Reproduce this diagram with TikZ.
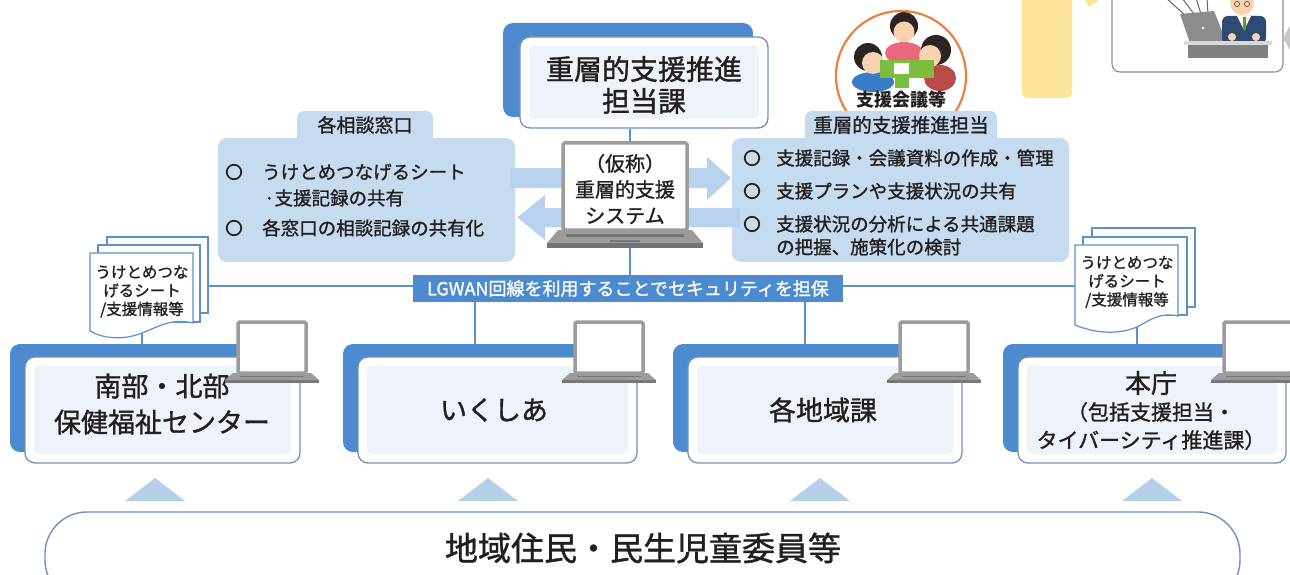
\documentclass[tikz,border=0pt]{standalone}
\usepackage{fontspec}
\setmainfont{Noto Sans CJK JP}[UprightFeatures={FakeBold=1.2}]
\usetikzlibrary{calc}
\definecolor{backblue}{HTML}{4C8BCF}
\definecolor{lineblue}{HTML}{5B91CD}
\definecolor{paleblue}{HTML}{C6DBF0}
\definecolor{arrowblue}{HTML}{B8D2ED}
\definecolor{frameblue}{HTML}{7191BA}
\definecolor{innerfill}{HTML}{EEF3F9}
\definecolor{txt}{HTML}{231F20}
\definecolor{lapgrey}{HTML}{9C9C9C}
\definecolor{lapdark}{HTML}{777777}
\definecolor{ringorange}{HTML}{E8823E}
\definecolor{padyellow}{HTML}{FCE597}
\definecolor{trifill}{HTML}{B7D0EA}
\definecolor{skin}{HTML}{F7D3B2}
\definecolor{hair}{HTML}{2B2422}
\definecolor{shirtblue}{HTML}{3B7CC9}
\definecolor{shirtpink}{HTML}{E9687C}
\definecolor{shirtred}{HTML}{B94A48}
\definecolor{tablegreen}{HTML}{7CBD3E}
\definecolor{suit}{HTML}{2E4A72}
\newcommand{\fsz}[2]{\fontsize{#1}{#2}\selectfont}

% notebook: name, screen centre x, screen top, screen bottom, half width
\newcommand{\notebook}[5]{%
  \node[lapscreen, minimum width=2*#5, minimum height=#4-#3] (#1) at (#2,{(#3+#4)/2}) {};
  \fill[lapgrey] (#2-#5-5,#4) -- (#2+#5+5,#4) -- (#2+#5+13,#4+7) -- (#2-#5-13,#4+7) -- cycle;
  \fill[lapdark] (#2-#5-13,#4+7) rectangle (#2+#5+13,#4+10);
  \draw[lapdark, line width=0.8pt] (#2-#5+2,#4+3.5) -- (#2+#5-2,#4+3.5);
}

\begin{document}
\begin{tikzpicture}[x=1pt,y=-1pt,
  backpanel/.style={fill=backblue, rounded corners=10pt, inner sep=0pt},
  panel/.style={draw=frameblue, line width=1.3pt, fill=white, rounded corners=10pt, inner sep=0pt,
     path picture={\fill[innerfill, rounded corners=5pt] ($(path picture bounding box.south west)+(9,-9)$) rectangle ($(path picture bounding box.north east)+(-9,9)$);}},
  infobox/.style={fill=paleblue, rounded corners=9pt, inner sep=0pt},
  conn/.style={draw=lineblue, line width=1.7pt},
  sheet/.style={draw=lineblue, line width=1.2pt, fill=white},
  lapscreen/.style={draw=lapgrey, line width=3.5pt, fill=white, rounded corners=1.5pt, inner sep=0pt},
  txtnode/.style={text=txt, inner sep=0pt},
  bullet/.style={circle, draw=txt, line width=1.7pt, minimum size=14.5pt, inner sep=0pt},
  bigarrow/.style={fill=arrowblue},
]
\useasboundingbox (0,0) rectangle (1290,575);
\clip (0,0) rectangle (1290,575);
\fill[white] (0,0) rectangle (1290,575);

% ---- upper right corner: note pad and person at a computer
\fill[padyellow, rounded corners=6pt] (1022,-12) rectangle (1072,98);
\fill[padyellow] (1085,0) -- (1099,0) -- (1089,7) -- cycle;
\draw[draw=black!45, line width=1.1pt, fill=white, rounded corners=8pt] (1112,-15) rectangle (1283,72);
\draw[black!60, line width=1pt] (1186,16) -- (1166,-2) (1194,14) -- (1182,-2) (1201,14) -- (1196,-2) (1208,14) -- (1207,-2);
\fill[black!45] (1180,14) -- (1214,11) -- (1226,41) -- (1190,43) -- cycle;
\fill[white] (1203,28) circle (1.3);
\fill[suit, rounded corners=6pt] (1222,16) rectangle (1266,44);
\fill[white] (1237,16) -- (1251,16) -- (1244,30) -- cycle;
\fill[tablegreen!80!black] (1243,17) -- (1246,17) -- (1246,28) -- (1244.5,31) -- (1243,28) -- cycle;
\fill[skin] (1242,3) circle (12);
\draw[black!70, line width=0.6pt] (1237,4) circle (2.6) (1247,4) circle (2.6);
\fill[skin] (1232,37) circle (4) (1256,37) circle (4);
\fill[black!15] (1184,41) rectangle (1272,45);
\fill[black!50] (1188,45) rectangle (1268,58);
\fill[black!22] (1290,26) -- (1283,38) -- (1290,50) -- cycle;

% ---- top section
\fill[backpanel] (503,23) rectangle (753,117);
\node[panel, minimum width=248, minimum height=91] (top) at (644,82.5) {};
\node[txtnode, font=\fsz{28}{32}, align=center] (toptext) at (644,85) {重層的支援推進\\担当課};

% support meeting emblem
\begin{scope}
  \clip (901,76) circle (65);
  \fill[white] (901,76) circle (65);
  \fill[shirtpink] (904,53) ellipse (19 and 11);
  \fill[hair] (904,26) circle (14);
  \fill[skin] (904,32) circle (10.5);
  \fill[shirtblue] (873,82) ellipse (21 and 10);
  \fill[hair] (868,57) circle (14);
  \fill[skin] (873,63) circle (11);
  \fill[shirtred] (940,78) ellipse (16 and 13);
  \fill[hair] (936,50) circle (15);
  \fill[skin] (930,56) circle (11);
  \fill[tablegreen] (880,60) rectangle (934,78);
  \fill[tablegreen] (895,78) rectangle (909,88);
  \fill[white] (894,63) rectangle (909,74);
\end{scope}
\draw[ringorange, line width=2.2pt] (901,76) circle (65);
\node[txtnode, font=\fsz{18}{20}\bfseries] (meet) at (901,100) {支援会議等};

% left information panel
\fill[paleblue, rounded corners=7pt] (297,111) rectangle (433,150);
\node[infobox, minimum width=297, minimum height=124] (leftbox) at (366.5,200) {};
\node[txtnode, font=\fsz{19}{22}] (lefttab) at (365,125) {各相談窓口};
\begin{scope}[every node/.style={txtnode, font=\fsz{18.5}{22}}]
  \node[bullet] (lc1) at (234,172) {};
  \node[anchor=west] (lt1) at (262,172) {うけとめつなげるシート};
  \node[anchor=west] (lt2) at (264,198) {·支援記録の共有};
  \node[bullet] (lc2) at (234,228) {};
  \node[anchor=west] (lt3) at (262,228) {各窓口の相談記録の共有化};
\end{scope}

% right information panel
\fill[paleblue, rounded corners=7pt] (805,111) rectangle (997,150);
\node[infobox, minimum width=337, minimum height=124] (rightbox) at (900.5,200) {};
\node[txtnode, font=\fsz{19.5}{22}] (righttab) at (901,125) {重層的支援推進担当};
\begin{scope}[every node/.style={txtnode, font=\fsz{18.5}{22}}]
  \node[bullet] (rc1) at (752,158) {};
  \node[anchor=west] (rt1) at (776,158) {支援記録・会議資料の作成・管理};
  \node[bullet] (rc2) at (752,191) {};
  \node[anchor=west] (rt2) at (776,191) {支援プランや支援状況の共有};
  \node[bullet] (rc3) at (752,224) {};
  \node[anchor=west] (rt3) at (776,224) {支援状況の分析による共通課題};
  \node[anchor=west] (rt4) at (776,247) {の把握、施策化の検討};
\end{scope}

% exchange arrows between the panels
\fill[bigarrow] (510,168) -- (707,168) -- (707,157) -- (731,178) -- (707,200) -- (707,188) -- (510,188) -- cycle;
\fill[bigarrow] (740,208) -- (545,208) -- (545,195) -- (517,217.5) -- (545,240) -- (545,227) -- (740,227) -- cycle;

% central system notebook
\node[lapscreen, minimum width=124, minimum height=87] (sys) at (625,186.5) {};
\node[txtnode, font=\fsz{20}{26}, align=center] (systext) at (625,189) {（仮称）\\重層的支援\\システム};
\fill[lapgrey] (558,230) -- (692,230) -- (703,243) -- (547,243) -- cycle;
\fill[lapdark] (566,233.5) rectangle (684,237);
\fill[black!55] (547,243) rectangle (703,248);
\fill[lapdark] (610,239.5) rectangle (640,241.5);
\coordinate (sysbase) at (630,248);
\coordinate (trunk) at (630,286);

% ---- document stacks
\draw[sheet] (107,237) rectangle (208,313);
\draw[sheet] (98,245) rectangle (200,322);
\draw[sheet] (90,253) -- (193,253) -- (193,323) .. controls (172,318) and (160,326) .. (142,333) .. controls (122,341) and (102,338) .. (90,331) -- cycle;
\node[txtnode, font=\fsz{15.5}{18.5}, align=center] (doc1) at (142,291.5) {うけとめつな\\げるシート\\/支援情報等};
\coordinate (doc1foot) at (142,333);
\coordinate (doc1edge) at (208,286);

\draw[sheet] (1092,228) rectangle (1195,307);
\draw[sheet] (1083,237) rectangle (1187,315);
\draw[sheet] (1075,245) -- (1178,245) -- (1178,316) .. controls (1160,312) and (1150,320) .. (1137,327) .. controls (1115,336) and (1092,332) .. (1075,325) -- cycle;
\node[txtnode, font=\fsz{15.5}{18.5}, align=center] (doc2) at (1127,282) {うけとめつな\\げるシート\\/支援情報等};
\coordinate (doc2foot) at (1137,327);
\coordinate (doc2edge) at (1075,286);

% ---- network line
\draw[conn, line width=2pt] (doc1edge) -- (doc2edge);
\node[fill=backblue, text=white, minimum width=430, minimum height=27, inner sep=0pt, font=\fsz{18}{20}] (lgwan) at (628,288.5) {LGWAN回線を利用することでセキュリティを担保};

% ---- lower row of offices
\node[backpanel, minimum width=270, minimum height=108] (b1back) at (145,398) {};
\node[backpanel, minimum width=257, minimum height=108] (b2back) at (471.5,398) {};
\node[backpanel, minimum width=247, minimum height=108] (b3back) at (796.5,398) {};
\node[backpanel, minimum width=237, minimum height=108] (b4back) at (1121.5,398) {};

\node[panel, minimum width=275, minimum height=106] (b1) at (162.5,410) {};
\node[panel, minimum width=279, minimum height=106] (b2) at (497.5,410) {};
\node[panel, minimum width=274, minimum height=106] (b3) at (825,410) {};
\node[panel, minimum width=268, minimum height=106] (b4) at (1152,410) {};

\node[txtnode, font=\fsz{27}{36}, align=center] (b1text) at (162,404) {南部・北部\\保健福祉センター};
\node[txtnode, font=\fsz{27}{34}] (b2text) at (494,410) {いくしあ};
\node[txtnode, font=\fsz{27}{34}] (b3text) at (823,410) {各地域課};
\node[txtnode, font=\fsz{26}{30}] (b4title) at (1151,383) {本庁};
\node[txtnode, font=\fsz{21}{28}, align=center] (b4text) at (1151,426) {（包括支援担当・\\タイバーシティ推進課）};

\notebook{lap1}{272}{322}{373}{34}
\notebook{lap2}{609}{322}{373}{34}
\notebook{lap3}{934}{322}{373}{34}
\notebook{lap4}{1258}{322}{373}{34}

% ---- connectors
\draw[conn] (trunk |- top.south) -- (trunk |- sys.north);
\draw[conn] (sysbase) -- (trunk);
\draw[conn] (doc1foot) -- (doc1foot |- b1back.north);
\draw[conn] (doc2foot) -- (doc2foot |- b4back.north);
\draw[conn] (475,0 |- lgwan.south) -- (475,0 |- b2back.north);
\draw[conn] (805,0 |- lgwan.south) -- (805,0 |- b3back.north);

% ---- residents
\foreach \cx in {155,488,820,1152}
  \fill[trifill] (\cx-30,501) -- (\cx,478) -- (\cx+30,501) -- cycle;
\node[draw=frameblue, line width=1.4pt, fill=white, rounded corners=42pt, minimum width=1195, minimum height=90, inner sep=0pt] (res) at (642.5,557) {};
\node[txtnode, font=\fsz{33}{36}] (restext) at (643,548) {地域住民・民生児童委員等};
\end{tikzpicture}
\end{document}
